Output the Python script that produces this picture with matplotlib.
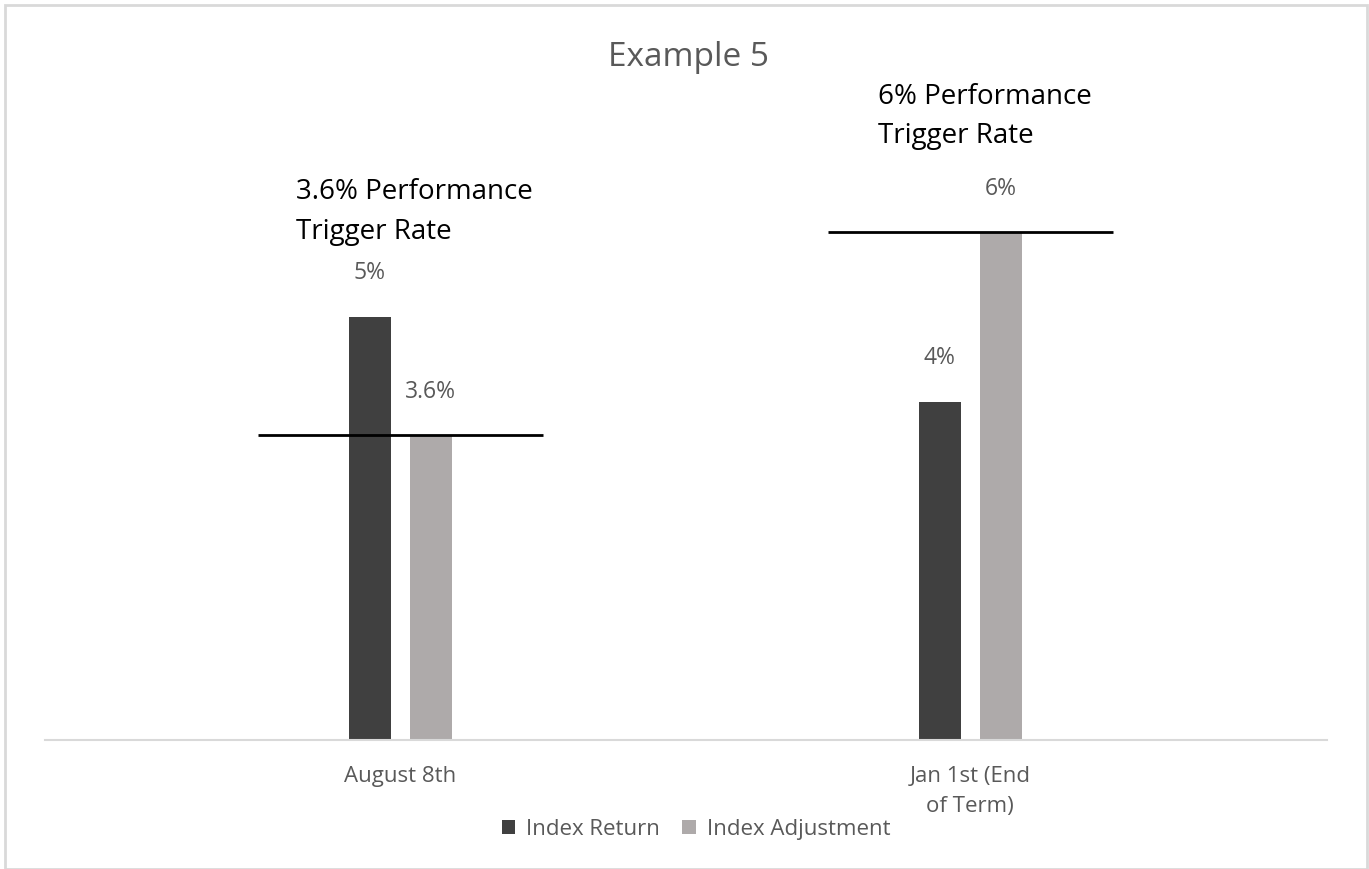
import matplotlib.pyplot as plt
from matplotlib.patches import Rectangle

plt.rcParams['font.family'] = ['Open Sans', 'DejaVu Sans']

# Data
categories = ["August 8th", "Jan 1st (End\nof Term)"]
index_return = [5.0, 4.0]
index_adjustment = [3.6, 6.0]
trigger_rates = [3.6, 6.0]
return_labels = ["5%", "4%"]
adjust_labels = ["3.6%", "6%"]
trigger_texts = ["3.6% Performance\nTrigger Rate", "6% Performance\nTrigger Rate"]

W, H = 1369, 870
fig = plt.figure(figsize=(W / 100, H / 100), dpi=100)
ax = fig.add_axes([45 / W, (H - 741) / H, (1327 - 45) / W, (741 - 64) / H])

dark = "#404040"
light = "#AEAAAA"
grey_txt = "#595959"

x = [0, 1]
bw = 0.074
off = 0.0535
ax.bar([i - off for i in x], index_return, bw, color=dark, label="Index Return")
ax.bar([i + off for i in x], index_adjustment, bw, color=light, label="Index Adjustment")

# trigger rate lines
for i, t in zip(x, trigger_rates):
    ax.hlines(t, i - 0.25, i + 0.25, color="black", lw=2)

# data labels
for i, v, lab in zip(x, index_return, return_labels):
    ax.annotate(lab, (i - off, v), xytext=(0, 32), textcoords="offset points",
                ha="center", va="center", fontsize=16.5, color=grey_txt)
for i, v, lab in zip(x, index_adjustment, adjust_labels):
    ax.annotate(lab, (i + off, v), xytext=(0, 32), textcoords="offset points",
                ha="center", va="center", fontsize=16.5, color=grey_txt)

# trigger annotations
ax.text(-0.182, 6.25, trigger_texts[0], ha="left", va="center", fontsize=20,
        color="black", linespacing=1.6)
ax.text(0.839, 7.38, trigger_texts[1], ha="left", va="center", fontsize=20,
        color="black", linespacing=1.5)

ax.set_xlim(-0.623, 1.626)
ax.set_ylim(0, 8)
ax.set_xticks(x)
ax.set_xticklabels(categories, fontsize=16, color=grey_txt, linespacing=1.55)
ax.tick_params(axis="x", length=0, pad=18)
ax.set_yticks([])
for s in ["top", "right", "left"]:
    ax.spines[s].set_visible(False)
ax.spines["bottom"].set_color("#D9D9D9")
ax.spines["bottom"].set_linewidth(1.5)

fig.text(689 / W, 1 - 58 / H, "Example 5", ha="center", va="center",
         fontsize=24, color=grey_txt)

fig.legend(loc="center", bbox_to_anchor=(696 / W, 1 - 830 / H), ncol=2,
           frameon=False, fontsize=16, handlelength=0.6, handleheight=0.6,
           handletextpad=0.5, columnspacing=1.0, labelcolor=grey_txt)

fig.patches.append(Rectangle((5 / W, 0), 1362 / W, 1 - 6 / H, transform=fig.transFigure,
                             fill=False, edgecolor="#D9D9D9", lw=2))

plt.savefig("out.png", dpi=100)
